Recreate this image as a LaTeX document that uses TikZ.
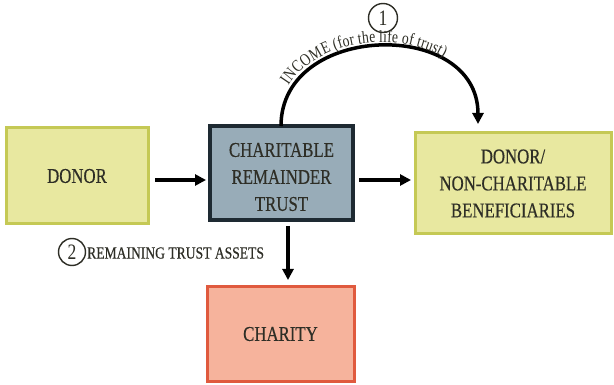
\documentclass[tikz,border=0pt]{standalone}
\usepackage{fontspec}
\setmainfont{Liberation Serif}
\newfontfamily\cfont{Liberation Serif}[FakeStretch=0.8]
\newfontfamily\bfont{Liberation Serif}[FakeStretch=0.8,FakeBold=0.4]
\usetikzlibrary{arrows.meta,decorations.text}
\definecolor{yfill}{HTML}{E8E8A0}
\definecolor{ydraw}{HTML}{C5C955}
\definecolor{tfill}{HTML}{98ACB8}
\definecolor{tdraw}{HTML}{1E2A32}
\definecolor{cfill}{HTML}{F6B39C}
\definecolor{cdraw}{HTML}{E05A3E}
\definecolor{txt}{HTML}{2E2E26}
\begin{document}
\begin{tikzpicture}[x=1pt,y=-1pt,
  box/.style={draw,line width=3pt,align=center,text=txt,font=\bfont\fontsize{21}{27}\selectfont,inner sep=0pt},
  arr/.style={line width=3.5pt,-{Triangle[length=11pt,width=11pt]}},
  num/.style={circle,draw=txt,line width=1.4pt,text=txt,inner sep=0pt,font=\cfont\fontsize{22}{22}\selectfont}]
\useasboundingbox[fill=white] (0,0) rectangle (614,385);
\node[box,fill=yfill,draw=ydraw,minimum width=142pt,minimum height=96pt] (donor) at (77,176) {DONOR};
\node[box,fill=tfill,draw=tdraw,line width=3.5pt,minimum width=143pt,minimum height=94pt] (trust) at (281.5,173) {};
\node[align=center,text=txt,font=\bfont\fontsize{21}{27}\selectfont,inner sep=0pt] (trusttext) at (281.5,177) {CHARITABLE\\REMAINDER\\TRUST};
\node[box,fill=yfill,draw=ydraw,minimum width=196pt,minimum height=101pt] (ben) at (513,183.5) {DONOR/\\NON-CHARITABLE\\BENEFICIARIES};
\node[box,fill=cfill,draw=cdraw,minimum width=147pt,minimum height=94pt] (charity) at (280.5,334) {CHARITY};
\coordinate (a1s) at (155,180);
\coordinate (a1e) at (206,180);
\draw[arr] (a1s) -- (a1e);
\coordinate (a2s) at (359,180);
\coordinate (a2e) at (411,180);
\draw[arr] (a2s) -- (a2e);
\coordinate (a3s) at (288,226);
\coordinate (a3e) at (288,280);
\draw[arr] (a3s) -- (a3e);
\coordinate (cs) at (281,126);
\coordinate (ce) at (478,124);
\draw[arr] (cs) .. controls (281,22) and (478,18) .. (ce);
\path[decorate,decoration={text along path,raise=4pt,text align={left indent=40pt},
  text={|\cfont\fontsize{17}{17}\selectfont\color{txt}|INCOME (for the life of trust)}}]
  (cs) .. controls (281,22) and (478,18) .. (ce);
\node[num,minimum size=29pt] (n1) at (383,18) {1};
\node[num,minimum size=27pt] (n2) at (72,252) {2};
\node[anchor=west,text=txt,font=\bfont\fontsize{17}{17}\selectfont,inner sep=0pt] (rem) at (87,253) {REMAINING TRUST ASSETS};
\end{tikzpicture}
\end{document}
